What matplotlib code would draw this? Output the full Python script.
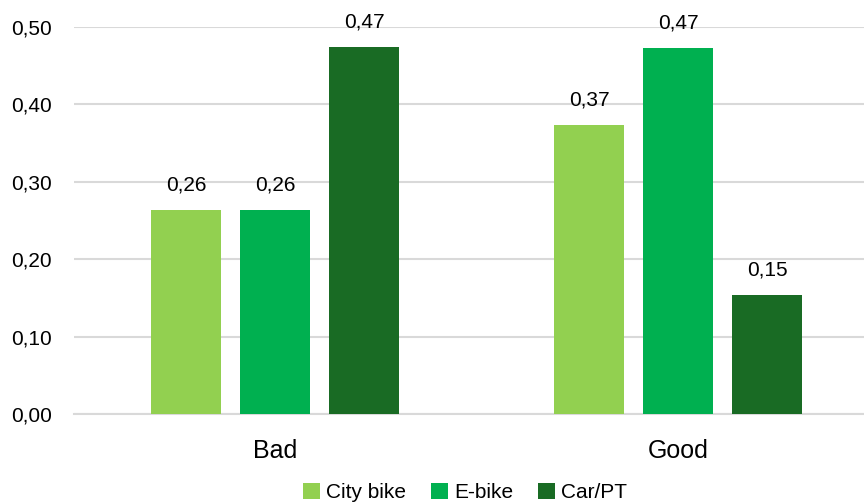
import matplotlib.pyplot as plt
import numpy as np

categories = ['Bad', 'Good']
series = ['City bike', 'E-bike', 'Car/PT']
city_bike = [0.264, 0.374]
e_bike = [0.264, 0.473]
car_pt = [0.474, 0.154]
colors = ['#92D050', '#00B050', '#196B24']

narrow = ['Liberation Sans Narrow', 'Liberation Sans', 'DejaVu Sans']
plt.rcParams['font.family'] = ['Liberation Sans', 'DejaVu Sans']

fig = plt.figure(figsize=(8.64, 5.03), dpi=100)
ax = fig.add_axes([74 / 864, 89 / 503, (879.5 - 74) / 864, 387 / 503])

x = np.arange(len(categories))
step = 0.221
width = 0.174
for i, (name, vals) in enumerate(zip(series, [city_bike, e_bike, car_pt])):
    bars = ax.bar(x + (i - 1) * step, vals, width, color=colors[i], label=name, zorder=3)
    for b, v in zip(bars, vals):
        ax.annotate(f'{v:.2f}'.replace('.', ','), (b.get_x() + b.get_width() / 2, v),
                    xytext=(0, 18), textcoords='offset points',
                    ha='center', va='center', fontsize=15, color='#000000')

ax.set_xlim(-0.5, 1.5)
ax.set_ylim(0, 0.5)
ax.set_yticks(np.arange(0, 0.51, 0.1))
ax.set_yticklabels([f'{t:.2f}'.replace('.', ',') for t in np.arange(0, 0.51, 0.1)], fontsize=15)
ax.set_xticks(x)
ax.set_xticklabels(categories, fontsize=18, family=narrow)
ax.tick_params(length=0)
ax.tick_params(axis='x', pad=18)
ax.tick_params(axis='y', pad=16)
ax.grid(axis='y', color='#D9D9D9', linewidth=1.5, zorder=0)
for s in ['top', 'right', 'left']:
    ax.spines[s].set_visible(False)
ax.spines['bottom'].set_color('#D9D9D9')
ax.spines['bottom'].set_linewidth(1.5)

leg = fig.legend(loc='lower center', ncol=3, frameon=False, bbox_to_anchor=(465 / 864, -0.035),
                 prop={'family': narrow, 'size': 15}, handlelength=0.8, handleheight=0.8,
                 handletextpad=0.3, columnspacing=1.2)

fig.savefig('out.png', dpi=100)
